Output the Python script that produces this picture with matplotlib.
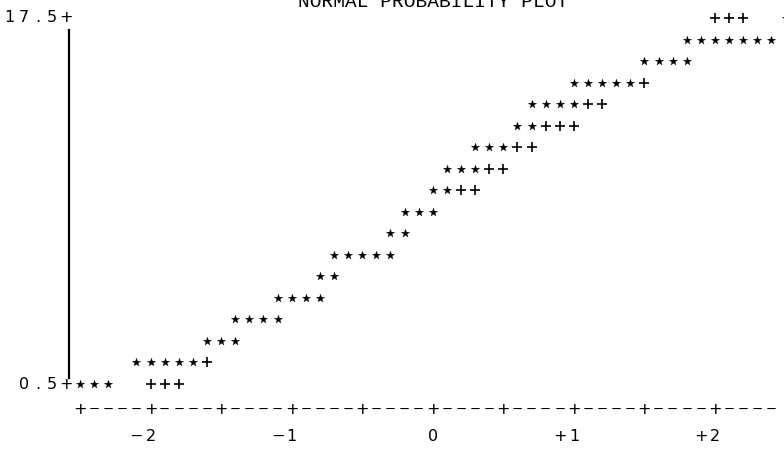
import matplotlib
matplotlib.use("Agg")
import matplotlib.pyplot as plt

# line printer normal probability plot: one print row per data value,
# one print column per 0.1 of the normal quantile axis

star_rows = [17.5, 16.5, 15.5, 14.5, 13.5, 12.5, 11.5, 10.5, 9.5,
             8.5, 7.5, 6.5, 5.5, 4.5, 3.5, 2.5, 1.5, 0.5]
star_q = [
    [2.5],
    [1.8, 1.9, 2.0, 2.1, 2.2, 2.3, 2.4],
    [1.5, 1.6, 1.7, 1.8],
    [1.0, 1.1, 1.2, 1.3, 1.4],
    [0.7, 0.8, 0.9, 1.0],
    [0.6, 0.7],
    [0.3, 0.4, 0.5],
    [0.1, 0.2, 0.3],
    [0.0, 0.1],
    [-0.2, -0.1, 0.0],
    [-0.3, -0.2],
    [-0.7, -0.6, -0.5, -0.4, -0.3],
    [-0.8, -0.7],
    [-1.1, -1.0, -0.9, -0.8],
    [-1.4, -1.3, -1.2, -1.1],
    [-1.6, -1.5, -1.4],
    [-2.1, -2.0, -1.9, -1.8, -1.7],
    [-2.5, -2.4, -2.3],
]

# reference line, printed with '+'
plus_rows = [17.5, 14.5, 13.5, 12.5, 11.5, 10.5, 9.5, 1.5, 0.5]
plus_q = [
    [2.0, 2.1, 2.2],
    [1.5],
    [1.1, 1.2],
    [0.8, 0.9, 1.0],
    [0.6, 0.7],
    [0.4, 0.5],
    [0.2, 0.3],
    [-1.6],
    [-2.0, -1.9, -1.8],
]

y_tick_vals = [17.5, 0.5]
y_tick_labels = ["17.5", "0.5"]
x_tick_vals = [-2, -1, 0, 1, 2]
x_tick_labels = ["\u22122", "\u22121", "0", "+1", "+2"]
title = "NORMAL PROBABILITY PLOT"

COL = 0.1          # width of one print column in quantile units
AXIS_Q = -2.6      # column of the vertical axis
FONT = dict(family="DejaVu Sans", fontsize=11.5, color="black",
            ha="center", va="center")


def put(ax, text, q_start, v):
    # one character per print column
    for i, ch in enumerate(text):
        if ch != " ":
            ax.text(q_start + i * COL, v, ch, **FONT)


fig = plt.figure(figsize=(7.84, 4.67), dpi=100)
ax = fig.add_axes([0, 0, 1, 1])
ax.set_xlim(-3.067, 2.489)
ax.set_ylim(-3.355, 18.336)
ax.axis("off")

for v, qs in zip(star_rows, star_q):
    ax.scatter(qs, [v] * len(qs), marker="*", s=40, color="black",
               linewidths=0.2, zorder=3)
for v, qs in zip(plus_rows, plus_q):
    ax.scatter(qs, [v] * len(qs), marker="+", s=55, color="black",
               linewidths=1.2, zorder=3)

# vertical axis
ax.plot([AXIS_Q + 0.02, AXIS_Q + 0.02], [16.95, 0.78], color="black", lw=1.6)
for v, lab in zip(y_tick_vals, y_tick_labels):
    put(ax, lab + "+", AXIS_Q - COL * len(lab), v)

# horizontal axis printed as +----+----
axis_v = -0.7
n_cols = 50
for i in range(n_cols):
    q = -2.5 + i * COL
    if i % 5 == 0:
        ax.text(q, axis_v, "+", **FONT)
    else:
        ax.text(q, axis_v, "\u2212", **{**FONT, "fontsize": 9.5})
for q, lab in zip(x_tick_vals, x_tick_labels):
    put(ax, lab, q - COL * (len(lab) - 1), -1.95)

ax.text(0, 18.0, title, family="Liberation Mono", fontsize=14,
        ha="center", va="baseline", color="black")

fig.savefig("out.png", dpi=100)
